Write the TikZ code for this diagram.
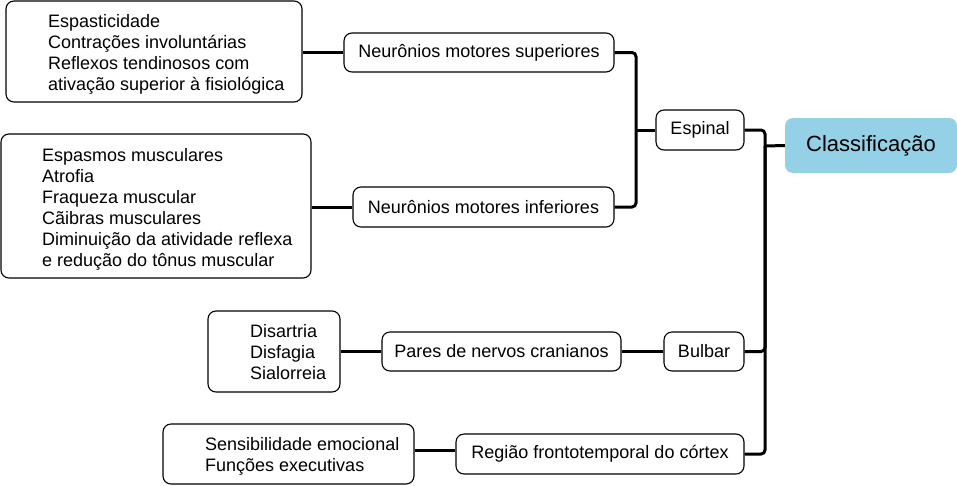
\documentclass[tikz,border=0pt]{standalone}
\usepackage{fontspec}
\setmainfont{Liberation Sans}
\definecolor{clsblue}{HTML}{94D0E6}
\begin{document}
\begin{tikzpicture}[x=1pt,y=-1pt]
\tikzset{
  box/.style={draw, rounded corners=8pt, line width=1.1pt, inner sep=0pt, fill=white,
              font=\fontsize{18}{21}\selectfont},
  txt/.style={anchor=west, align=left, inner sep=0pt, font=\fontsize{18}{21}\selectfont},
  conn/.style={line width=3pt, rounded corners=4pt}
}
\useasboundingbox (0,0) rectangle (957,485);
% left detail boxes
\node[box, minimum width=296, minimum height=101] (b1) at (154,51.5) {};
\node[txt] (t1) at (48,54) {Espasticidade\\Contrações involuntárias\\Reflexos tendinosos com\\ativação superior à fisiológica};
\node[box, minimum width=310, minimum height=144] (b2) at (156,206) {};
\node[txt] (t2) at (42,209) {Espasmos musculares\\Atrofia\\Fraqueza muscular\\Cãibras musculares\\Diminuição da atividade reflexa\\e redução do tônus muscular};
\node[box, minimum width=132, minimum height=81] (b3) at (274,351.5) {};
\node[txt] (t3) at (250,352.5) {Disartria\\Disfagia\\Sialorreia};
\node[box, minimum width=251, minimum height=60] (b4) at (288.5,454) {};
\node[txt] (t4) at (205,456) {Sensibilidade emocional\\Funções executivas};
% middle nodes
\node[box, minimum width=270, minimum height=39] (nms) at (479,52.5) {Neurônios motores superiores};
\node[box, minimum width=261, minimum height=40] (nmi) at (483.5,207) {Neurônios motores inferiores};
\node[box, minimum width=239, minimum height=39] (par) at (501.5,351.5) {Pares de nervos cranianos};
\node[box, minimum width=288, minimum height=40] (cor) at (600,454) {Região frontotemporal do córtex};
\node[box, minimum width=88, minimum height=40] (esp) at (700,130) {Espinal};
\node[box, minimum width=80, minimum height=39] (bul) at (704,351.5) {Bulbar};
\node[draw=none, fill=clsblue, rounded corners=8pt, inner sep=0pt, minimum width=172, minimum height=55,
      font=\fontsize{22}{26}\selectfont] (cls) at (871,145.5) {Classificação};
% junctions
\coordinate (j1) at (636,130);
\coordinate (j2) at (765,146);
% connectors
\draw[conn] (b1.east |- nms.west) -- (nms.west);
\draw[conn] (b2.east |- nmi.west) -- (nmi.west);
\draw[conn] (b3.east |- par.west) -- (par.west);
\draw[conn] (b4.east |- 0,450) -- (cor.west |- 0,450);
\draw[conn] (par.east) -- (bul.west);
\draw[conn] (nms.east) -| (j1);
\draw[conn] (nmi.east) -| (j1);
\draw[conn] (j1) -- (esp.west);
\draw[conn] (esp.east) -| (j2);
\draw[conn] (bul.east) -| (j2);
\draw[conn] (cor.east) -| (j2);
\draw[conn] (j2) -- (cls.west);
\end{tikzpicture}
\end{document}
